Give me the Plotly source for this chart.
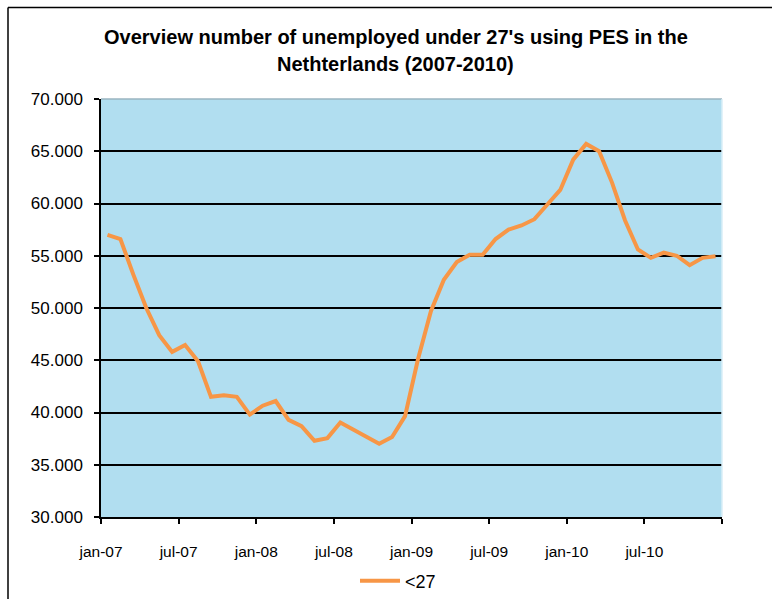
import plotly.graph_objects as go

# Monthly counts of unemployed under 27 registered with PES, jan-2007 .. dec-2010
months = [f"{m}-{y:02d}" for y in range(7, 11)
          for m in ["jan", "feb", "mar", "apr", "may", "jun",
                    "jul", "aug", "sep", "oct", "nov", "dec"]]
under_27 = [
    57000, 56600, 53200, 50000, 47400, 45800, 46450, 44900, 41500, 41650, 41500, 39800,
    40650, 41100, 39300, 38700, 37300, 37550, 39050, 38400, 37700, 37000, 37650, 39650,
    45100, 49700, 52700, 54400, 55100, 55100, 56600, 57500, 57900, 58500, 59900, 61300,
    64200, 65700, 65000, 62000, 58400, 55600, 54800, 55300, 55000, 54100, 54800, 54950,
]
tick_labels = ["jan-07", "jul-07", "jan-08", "jul-08", "jan-09",
               "jul-09", "jan-10", "jul-10", ""]
y_ticks = [30000, 35000, 40000, 45000, 50000, 55000, 60000, 65000, 70000]

# each month sits in the middle of its slot on the time axis
x_pos = [i + 0.5 for i in range(len(months))]

FONT = "Liberation Sans, Arial, sans-serif"
W, H = 772, 599
L, R, T, B = 101, 722, 99, 517   # plot area edges in pixels


def px_x(x):
    return (x - L) / (R - L)


def px_y(y):
    return (B - y) / (B - T)


fig = go.Figure()
fig.add_trace(go.Scatter(
    x=x_pos, y=under_27, mode="lines", name="<27",
    customdata=months, hovertemplate="%{customdata}: %{y:,d}<extra></extra>",
    line=dict(color="#F79646", width=4),
))

fig.update_layout(
    width=W, height=H,
    margin=dict(l=L, r=W - R, t=T, b=H - B, autoexpand=False),
    paper_bgcolor="white",
    plot_bgcolor="#B1DEF0",
    separators=",.",
    font=dict(family=FONT, color="black"),
    showlegend=True,
    legend=dict(orientation="h", xref="container", yref="container",
                x=398 / W, xanchor="center", y=1 - 581 / H, yanchor="middle",
                font=dict(size=18), itemwidth=40, bgcolor="rgba(0,0,0,0)"),
    xaxis=dict(
        range=[0, 48], tickmode="array", tickvals=list(range(0, 49, 6)),
        ticktext=tick_labels, showgrid=False, zeroline=False,
        showline=True, linecolor="black", linewidth=1.5,
        ticks="outside", ticklen=5, tickwidth=1.5, tickcolor="black",
        tickfont=dict(size=15.5), ticklabelstandoff=15,
    ),
    yaxis=dict(
        range=[30000, 70000], tickmode="array", tickvals=y_ticks,
        tickformat=",d", showgrid=True, gridcolor="black", gridwidth=1.5,
        zeroline=False, showline=True, linecolor="black", linewidth=1.5,
        ticks="outside", ticklen=5, tickwidth=1.5, tickcolor="black",
        tickfont=dict(size=17), ticklabelstandoff=8,
    ),
    annotations=[
        dict(text="<b>Overview number of unemployed under 27's using PES in the</b>",
             xref="paper", yref="paper", x=px_x(395.5), y=px_y(37),
             xanchor="center", yanchor="middle", showarrow=False,
             font=dict(size=20, family=FONT)),
        dict(text="<b>Nethterlands (2007-2010)</b>",
             xref="paper", yref="paper", x=px_x(395.5), y=px_y(64),
             xanchor="center", yanchor="middle", showarrow=False,
             font=dict(size=20, family=FONT)),
    ],
    shapes=[
        # outer chart frame: top and left edges
        dict(type="line", xref="paper", yref="paper",
             x0=px_x(8), x1=px_x(W + 5), y0=px_y(7.5), y1=px_y(7.5),
             line=dict(color="black", width=1.5), layer="above"),
        dict(type="line", xref="paper", yref="paper",
             x0=px_x(8), x1=px_x(8), y0=px_y(7.5), y1=px_y(H + 5),
             line=dict(color="black", width=1.5), layer="above"),
        # light plot-area border on top and right
        dict(type="line", xref="paper", yref="paper", x0=0, x1=1, y0=1, y1=1,
             line=dict(color="#9AB4C0", width=1.5), layer="above"),
        dict(type="line", xref="paper", yref="paper", x0=1, x1=1, y0=0, y1=1,
             line=dict(color="#D8EEF7", width=1.5), layer="above"),
    ],
)

fig.write_html("out.html")
